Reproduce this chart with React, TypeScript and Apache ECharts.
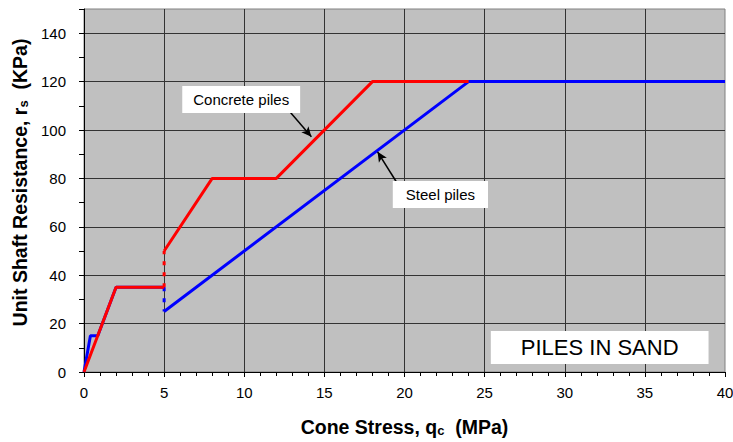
import React, { useEffect, useRef } from "react";
import * as echarts from "echarts";

// Concrete piles (red)
const concreteLower = [[0, 0], [2, 35], [5, 35]];
const concreteJump = [[5, 35], [5, 50]];
const concreteUpper = [[5, 50], [8, 80], [12, 80], [18, 120], [24, 120]];

// Steel piles (blue)
const steelLower = [[0, 0], [0.4, 15], [0.86, 15], [2, 35], [5, 35]];
const steelJump = [[5, 35], [5, 25]];
const steelUpper = [[5, 25], [24, 120], [40, 120]];

// Annotations (data coordinates)
const labelNames = ["Concrete piles", "Steel piles"];
const labelCoords = [[9.81, 112.6], [22.24, 73.3]];
const arrowFrom = [[12.59, 109.5], [19.81, 75.2]];
const arrowTo = [[14.19, 97.2], [18.32, 91.0]];
const boxTitle = "PILES IN SAND";
const boxCoord = [32.18, 10.1];

const xMin = 0, xMax = 40, xStep = 5;
const yMin = 0, yMax = 150, yStep = 10;

const FONT = "'Liberation Sans', Arial, sans-serif";
const RED = "#FF0000";
const BLUE = "#0000FF";

const titleRich = {
  b: { fontSize: 19.5, fontWeight: "bold", color: "#000", fontFamily: FONT },
  s: { fontSize: 13, fontWeight: "bold", color: "#000", fontFamily: FONT, verticalAlign: "bottom", padding: [7, 0, 0, 0] },
};

export default function App() {
  const ref = useRef<HTMLDivElement>(null);
  useEffect(() => {
    if (!ref.current) return;
    const chart = echarts.init(ref.current, null, { renderer: "svg" });
    const lineBase = (data: number[][], color: string, dashed: boolean, z: number) => ({
      type: "line",
      data,
      showSymbol: false,
      symbol: "none",
      z,
      lineStyle: { color, width: 3, type: dashed ? [4, 7] : "solid" },
      silent: true,
    });
    chart.setOption({
      animation: false,
      backgroundColor: "#ffffff",
      textStyle: { fontFamily: FONT },
      grid: {
        left: 84, right: 8, top: 9, bottom: 70,
        outerBoundsMode: "none",
        containLabel: false,
        show: true, backgroundColor: "#C0C0C0", borderColor: "#808080", borderWidth: 1,
      },
      xAxis: {
        type: "value", min: xMin, max: xMax, interval: xStep,
        axisLine: { show: true, onZero: false, lineStyle: { color: "#000", width: 1 } },
        axisTick: { show: true, length: 5, lineStyle: { color: "#000" } },
        minorTick: { show: true, splitNumber: 5, length: 4, lineStyle: { color: "#000" } },
        splitLine: { show: true, showMaxLine: false, lineStyle: { color: "#333", width: 1 } },
        axisLabel: { fontSize: 15, color: "#000", margin: 13, fontFamily: FONT, hideOverlap: false },
        name: "{b|Cone Stress, q}{s|c}{b|  (MPa)}",
        nameLocation: "middle",
        nameGap: 45,
        nameTextStyle: { rich: titleRich },
      },
      yAxis: {
        type: "value", min: yMin, max: yMax, interval: yStep,
        axisLine: { show: true, onZero: false, lineStyle: { color: "#000", width: 1 } },
        axisTick: { show: true, length: 5, lineStyle: { color: "#000" } },
        splitLine: {
          show: true, showMaxLine: false,
          lineStyle: { color: ["#333", "rgba(0,0,0,0)"], width: 1 },
        },
        axisLabel: {
          fontSize: 15, color: "#000", margin: 18, fontFamily: FONT,
          formatter: (v: number) => (v % 20 === 0 && v <= 140 ? String(v) : ""),
        },
        name: "{b|Unit Shaft Resistance, r}{s|s}{b|  (KPa)}",
        nameLocation: "middle",
        nameRotate: 90,
        nameGap: 47,
        nameTextStyle: { rich: titleRich, padding: [0, 0, 0, 16] },
      },
      series: [
        lineBase(steelLower, BLUE, false, 2),
        lineBase(steelJump, BLUE, true, 2),
        lineBase(steelUpper, BLUE, false, 2),
        lineBase(concreteJump, RED, true, 3),
        lineBase(concreteLower, RED, false, 3),
        {
          ...lineBase(concreteUpper, RED, false, 3),
          markLine: {
            silent: true,
            symbol: ["none", "arrow"],
            symbolSize: [7, 10],
            label: { show: false },
            lineStyle: { color: "#000", width: 1.5, type: "solid" },
            data: arrowFrom.map((f, i) => [{ coord: f }, { coord: arrowTo[i] }]),
          },
          markPoint: {
            silent: true,
            symbol: "rect",
            symbolSize: 1,
            itemStyle: { color: "rgba(0,0,0,0)" },
            data: [
              ...labelNames.map((n, i) => ({
                name: n, coord: labelCoords[i],
                label: {
                  show: true, position: "inside", formatter: n, color: "#000",
                  fontSize: 15, fontFamily: FONT, backgroundColor: "#fff",
                  padding: i === 0 ? [6, 11, 6, 11] : [6, 13, 6, 13],
                },
              })),
              {
                name: boxTitle, coord: boxCoord,
                label: {
                  show: true, position: "inside", formatter: boxTitle, color: "#000",
                  fontSize: 22, fontFamily: FONT, backgroundColor: "#fff",
                  padding: [6, 30, 5, 30],
                },
              },
            ],
          },
        },
      ],
    });
    return () => chart.dispose();
  }, []);
  return <div ref={ref} style={{ width: 733, height: 442, position: "absolute", left: 0, top: 0 }} />;
}
